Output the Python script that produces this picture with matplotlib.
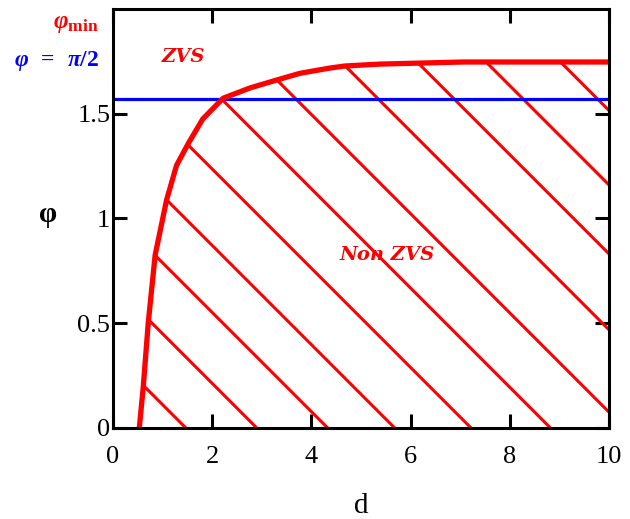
import numpy as np
import matplotlib
matplotlib.use('Agg')
import matplotlib.pyplot as plt

plt.rcParams['font.family'] = ['Liberation Serif', 'DejaVu Serif']
plt.rcParams['mathtext.fontset'] = 'custom'
plt.rcParams['mathtext.it'] = 'Liberation Serif:italic:bold'
plt.rcParams['mathtext.rm'] = 'Liberation Serif:bold'
plt.rcParams['mathtext.bf'] = 'Liberation Serif:bold'

# --- φ_min 邊界 ---
d_curve = [0.53, 0.61, 0.71, 0.85, 1.08, 1.28, 1.52, 1.81, 2.22, 2.76,
           3.30, 3.77, 4.37, 4.68, 5.38, 7.06, 10.0]
phi_curve = [0.0, 0.196, 0.50, 0.826, 1.088, 1.253, 1.359, 1.475, 1.574, 1.623,
             1.661, 1.693, 1.718, 1.728, 1.737, 1.747, 1.747]

# 斜線 (Non ZVS 區域) 在 φ=0 的截距與斜率
hatch_d0 = [1.47, 2.90, 4.33, 5.68, 7.22, 8.82, 10.32, 11.98, 13.51, 14.9, 16.4]
hatch_slope = 0.2368

phi_zvs = np.pi / 2

x_ticks = [0, 2, 4, 6, 8, 10]
y_ticks = [0, 0.5, 1, 1.5]
y_tick_labels = ['0', '0.5', '1', '1.5']

fig = plt.figure(figsize=(6.3, 5.19), dpi=100)
ax = fig.add_axes([113 / 630, 91 / 519, 496 / 630, 419 / 519])

# 斜線填充
dd = np.linspace(0, 10, 4001)
bound = np.interp(dd, d_curve, phi_curve, left=0)
for d0 in hatch_d0:
    ln = hatch_slope * (d0 - dd)
    m = (ln <= bound) & (ln >= 0)
    ax.plot(dd[m], ln[m], color='red', linewidth=2.2, solid_capstyle='butt')

ax.axhline(phi_zvs, color='blue', linewidth=2.3)
ax.plot(d_curve, phi_curve, color='red', linewidth=3.8)

ax.set_xlim(0, 10)
ax.set_ylim(0, 2)
ax.set_xticks(x_ticks)
ax.set_yticks(y_ticks)
ax.set_yticklabels(y_tick_labels)
for s in ax.spines.values():
    s.set_linewidth(2.2)
ax.tick_params(direction='in', length=10, width=2.2, top=True, right=True,
               labelsize=19)
ax.tick_params(axis='x', pad=13)
ax.tick_params(axis='y', pad=2)

ax.set_xlabel('d', fontsize=21, labelpad=18)
fig.text(48 / 630, 1 - 215 / 519, 'φ', fontsize=21, fontweight='bold',
         ha='center', va='center')

ax.text(1.41, 1.77, 'ZVS', color='red', fontsize=14, fontweight='bold',
        style='italic', family='DejaVu Serif', ha='center', va='center')
ax.text(5.52, 0.826, 'Non ZVS', color='red', fontsize=14, fontweight='bold',
        style='italic', family='DejaVu Serif', ha='center', va='center')

fig.text(99 / 630, 1 - 24 / 519, r'$\varphi_{\mathrm{min}}$', color='red',
         fontsize=18, ha='right', va='center')
fig.text(99 / 630, 1 - 61 / 519, r'$\varphi\ \,=\ \,\pi/2$', color='blue',
         fontsize=17, ha='right', va='center')

plt.savefig('out.png')
